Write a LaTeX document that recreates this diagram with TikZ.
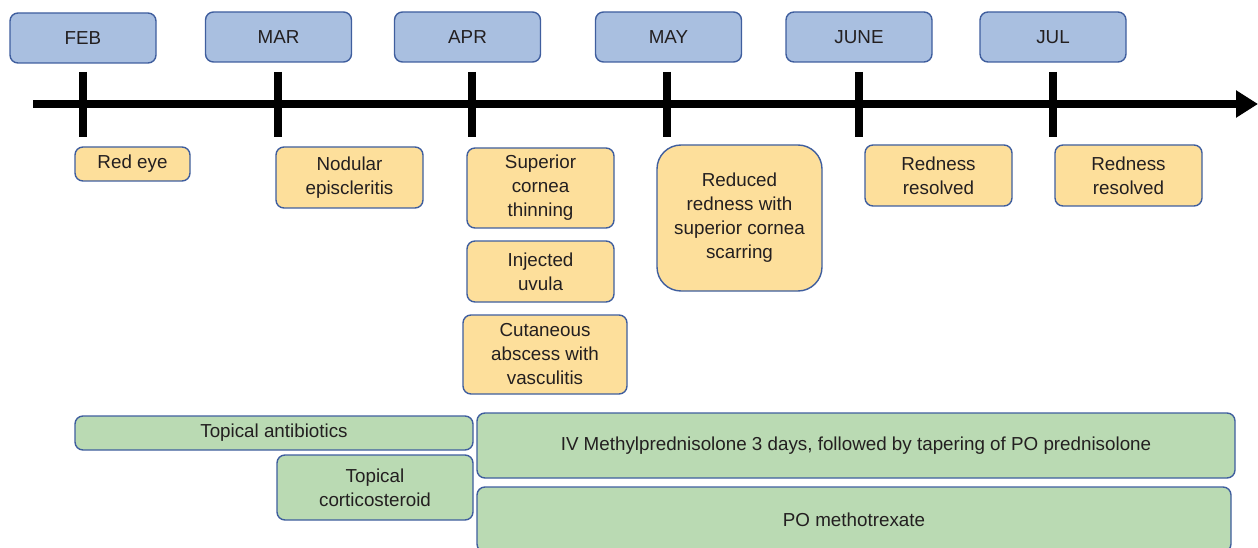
\documentclass[tikz,border=0pt]{standalone}
\usepackage{fontspec}
\setmainfont{Liberation Sans}
\usetikzlibrary{arrows.meta}

\definecolor{monthfill}{HTML}{A9BFE0}
\definecolor{boxline}{HTML}{3F5E9E}
\definecolor{eventfill}{HTML}{FDDF9B}
\definecolor{treatfill}{HTML}{BADAB3}
\definecolor{inkgray}{HTML}{231F20}

\begin{document}
\begin{tikzpicture}[x=1pt, y=-1pt, text=inkgray, font=\fontsize{18.8}{24}\selectfont]
    \tikzstyle{every node} = [rectangle, draw=boxline, line width=1.4pt, rounded corners=8pt, inner sep=0pt, align=center]
    \tikzstyle{month} = [fill=monthfill, minimum width=146pt, minimum height=50pt]
    \tikzstyle{event} = [fill=eventfill]
    \tikzstyle{treat} = [fill=treatfill]

    \useasboundingbox (0,0) rectangle (1258,548);

    \node (feb) at (83, 38) [month] {FEB};
    \node (mar) at (278.5, 37) [month] {MAR};
    \node (apr) at (467.5, 37) [month] {APR};
    \node (may) at (668.5, 37) [month] {MAY};
    \node (jun) at (859, 37) [month] {JUNE};
    \node (jul) at (1053, 37) [month] {JUL};

    \coordinate (start) at (33, 104);
    \coordinate (end) at (1258, 104);
    \draw [line width=8pt, -{Triangle[length=22pt, width=26pt]}] (start) -- (end);

    \draw [line width=8pt] (83, 72) -- (83, 137);
    \draw [line width=8pt] (278, 72) -- (278, 137);
    \draw [line width=8pt] (472, 72) -- (472, 137);
    \draw [line width=8pt] (667, 72) -- (667, 137);
    \draw [line width=8pt] (859, 72) -- (859, 137);
    \draw [line width=8pt] (1053, 72) -- (1053, 137);

    \node (a) at (132.5, 164) [event, minimum width=115pt, minimum height=34pt] {Red eye};
    \node (b) at (349.5, 177.5) [event, minimum width=147pt, minimum height=61pt] {Nodular\\episcleritis};
    \node (c) at (540.5, 188) [event, minimum width=147pt, minimum height=80pt] {Superior\\cornea\\thinning};
    \node (d) at (540.5, 271.5) [event, minimum width=147pt, minimum height=61pt] {Injected\\uvula};
    \node (e) at (545, 354.5) [event, minimum width=164pt, minimum height=79pt] {Cutaneous\\abscess with\\vasculitis};
    \node (f) at (739.5, 218) [event, rounded corners=24pt, minimum width=165pt, minimum height=146pt] {Reduced\\redness with\\superior cornea\\scarring};
    \node (g) at (938.5, 175.5) [event, minimum width=147pt, minimum height=61pt] {Redness\\resolved};
    \node (h) at (1128.5, 175.5) [event, minimum width=147pt, minimum height=61pt] {Redness\\resolved};

    \node (p) at (274, 433) [treat, minimum width=398pt, minimum height=34pt] {Topical antibiotics};
    \node (q) at (375, 487.5) [treat, minimum width=196pt, minimum height=65pt] {Topical\\corticosteroid};
    \node (r) at (856, 445.5) [treat, minimum width=758pt, minimum height=65pt] {IV Methylprednisolone 3 days, followed by tapering of PO prednisolone};
    \node (s) at (854, 519.5) [treat, minimum width=754pt, minimum height=65pt] {PO methotrexate};
\end{tikzpicture}
\end{document}
